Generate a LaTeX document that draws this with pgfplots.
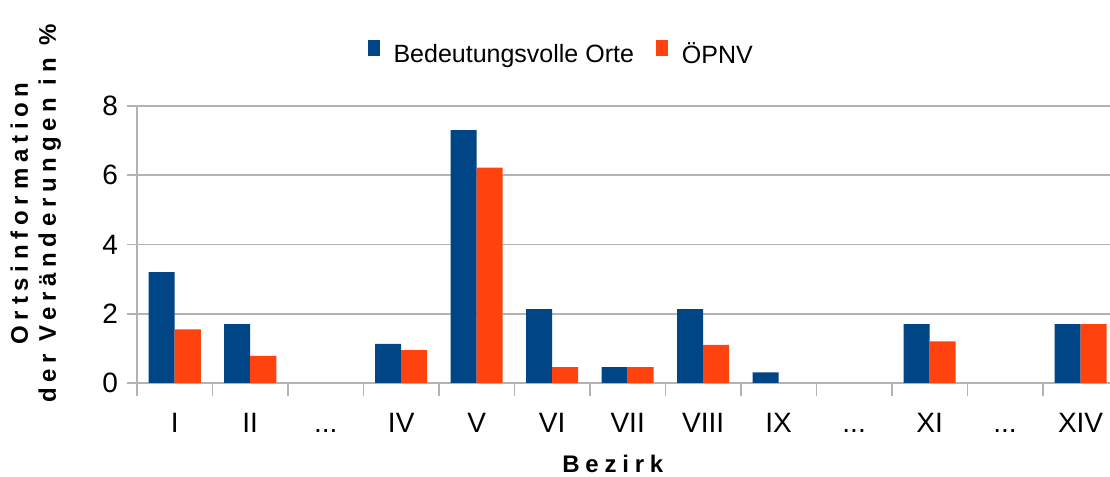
\documentclass[border=0pt]{standalone}
\usepackage{pgfplots}
\pgfplotsset{compat=1.18}
\usepackage{fontspec}
\setmainfont{Liberation Sans}
\newfontfamily\spacedbold[LetterSpace=24,BoldFont={Liberation Sans Bold}]{Liberation Sans}
\definecolor{cblue}{HTML}{004586}
\definecolor{corange}{HTML}{FF420E}
\definecolor{cgrid}{HTML}{B3B3B3}
\newcommand{\dd}{.\kern0pt.\kern0pt.}
\begin{document}
\begin{tikzpicture}
\begin{axis}[
  scale only axis,
  width=486.5pt, height=138.5pt,
  ybar, bar width=0.345,
  xmin=-0.5, xmax=12.39,
  ymin=0, ymax=8,
  ytick={0,2,4,6,8},
  xtick={0,...,12},
  xticklabels={I,II,\dd,IV,V,VI,VII,VIII,IX,\dd,XI,\dd,XIV},
  minor xtick={-0.5,0.5,...,11.5},
  major x tick style={draw=none},
  minor tick length=6.5pt,
  major tick length=5pt,
  tick style={cgrid, line width=0.8pt},
  xtick pos=bottom, ytick pos=left,
  tick align=outside,
  ymajorgrids,
  grid style={cgrid, line width=0.8pt},
  axis x line*=bottom, axis y line*=left,
  axis line style={cgrid, line width=0.8pt, -},
  /pgf/number format/assume math mode=true,
  tick label style={font=\fontsize{14}{16}\selectfont, black},
  xticklabel style={yshift=-6pt, text height=10pt, text depth=2pt},
  yticklabel style={xshift=-1pt},
  xlabel={Bezirk},
  xlabel style={at={(axis description cs:0.489,-0.292)}, anchor=center, font=\fontsize{12}{14}\spacedbold\bfseries},
  ylabel={Ortsinformation\\der Veränderungen in \%},
  ylabel style={at={(axis description cs:-0.104,0.612)}, anchor=center, align=center, font=\fontsize{12}{14}\spacedbold\bfseries},
  legend columns=2,
  legend style={draw=none, fill=none, at={(axis description cs:0.437,1.184)}, anchor=center, font=\fontsize{12.5}{15}\selectfont,
    /tikz/every odd column/.append style={column sep=5pt},
    /tikz/every even column/.append style={column sep=9pt}},
  legend image code/.code={\fill[#1] (0pt,-0.5pt) rectangle (6pt,7.5pt);},
]
\addplot[fill=cblue, draw=none, bar shift=-0.1725] coordinates {(0,3.2) (1,1.7) (3,1.13) (4,7.3) (5,2.13) (6,0.46) (7,2.13) (8,0.31) (10,1.7) (12,1.7)};
\addplot[fill=corange, draw=none, bar shift=0.1725] coordinates {(0,1.55) (1,0.78) (3,0.95) (4,6.22) (5,0.46) (6,0.46) (7,1.1) (10,1.2) (12,1.7)};
\legend{Bedeutungsvolle Orte,ÖPNV}
\coordinate (bl) at (rel axis cs:0,0);
\coordinate (tr) at (rel axis cs:1,1);
\end{axis}
\pgfresetboundingbox
\useasboundingbox ([xshift=-68.5pt,yshift=-47pt]bl) rectangle ([yshift=53pt]tr);
\end{tikzpicture}
\end{document}
